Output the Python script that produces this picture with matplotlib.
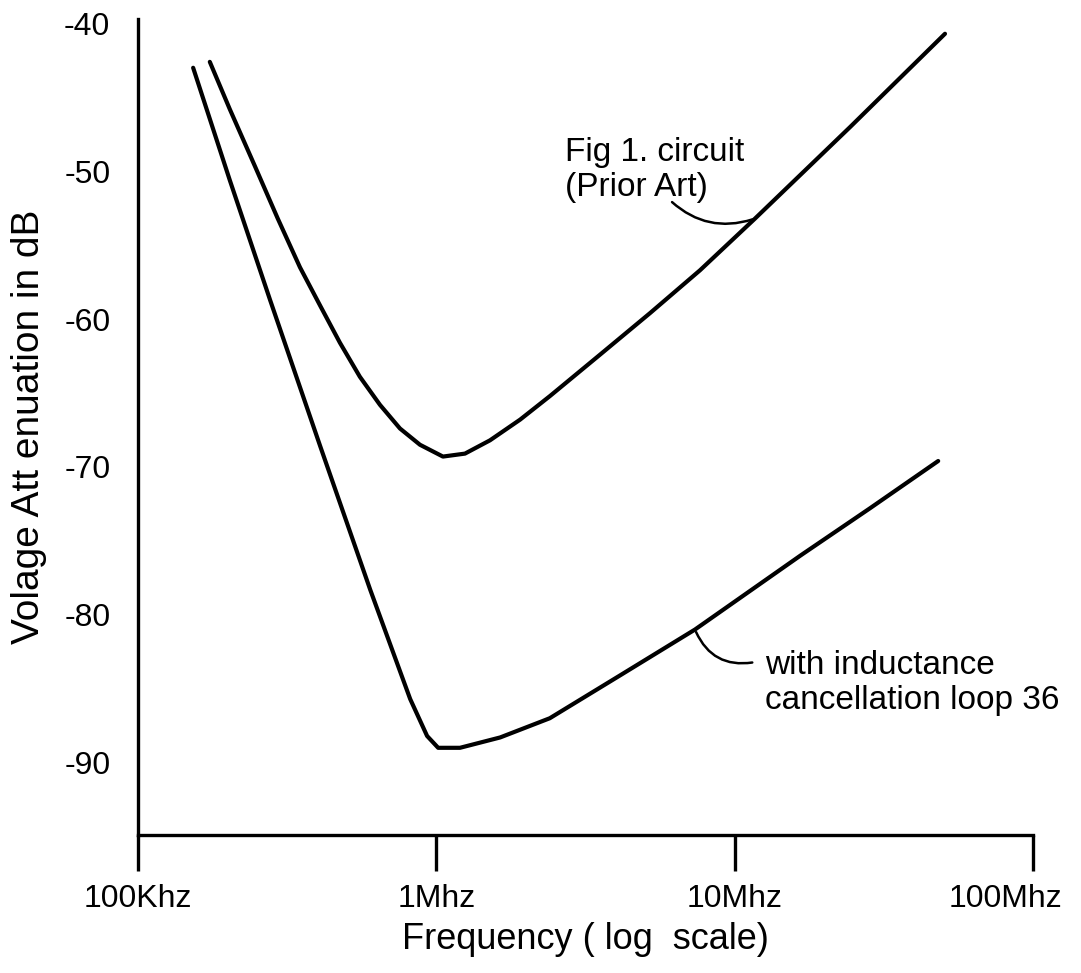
import matplotlib
matplotlib.use("Agg")
import matplotlib.pyplot as plt
import matplotlib.transforms as mtransforms

plt.rcParams['font.family'] = ['Liberation Sans', 'DejaVu Sans']

# frequency in MHz, attenuation in dB
prior_freq = [0.174, 0.203, 0.247, 0.294, 0.349, 0.408, 0.475, 0.554, 0.647, 0.755, 0.881,
              1.052, 1.247, 1.513, 1.909, 2.405, 3.54, 5.20, 7.65, 11.7, 24.4, 50.7]
prior_db = [-42.6, -45.8, -49.7, -53.2, -56.5, -59.1, -61.6, -63.9, -65.8, -67.4, -68.5,
            -69.3, -69.1, -68.2, -66.8, -65.2, -62.4, -59.6, -56.7, -53.2, -47.0, -40.7]

loop_freq = [0.153, 0.203, 0.277, 0.408, 0.600, 0.817, 0.931, 1.014, 1.20, 1.636, 2.40,
             4.13, 7.36, 16.6, 28.4, 48.1]
loop_db = [-43.0, -50.6, -58.7, -68.6, -78.3, -85.7, -88.2, -89.0, -89.0, -88.3, -87.0,
           -84.1, -81.0, -76.0, -72.8, -69.6]

xticks = [0.1, 1, 10, 100]
xtick_labels = ['100Khz', '1Mhz', '10Mhz', '100Mhz']
yticks = [-40, -50, -60, -70, -80, -90]

fig = plt.figure(figsize=(10.81, 9.73), dpi=100)
ax = fig.add_axes([0.1277, 0.1418, 0.8279, 0.8387])

ax.plot(prior_freq, prior_db, color='black', lw=3.0, solid_capstyle='round', solid_joinstyle='round')
ax.plot(loop_freq, loop_db, color='black', lw=3.0, solid_capstyle='round', solid_joinstyle='round')

ax.set_xscale('log')
ax.set_xlim(0.1, 100)
ax.set_ylim(-94.9, -39.7)

ax.spines['top'].set_visible(False)
ax.spines['right'].set_visible(False)
ax.spines['left'].set_linewidth(2.4)
ax.spines['bottom'].set_linewidth(2.4)

ax.set_xticks(xticks)
ax.set_xticklabels(xtick_labels, fontsize=23)
ax.minorticks_off()
ax.tick_params(axis='x', direction='out', length=26, width=2.4, pad=9)
ax.set_yticks(yticks)
ax.set_yticklabels([str(v) for v in yticks], fontsize=23)
ax.tick_params(axis='y', length=0, pad=20)

# last label sits a bit left of its tick
labels = ax.get_xticklabels()
shift = mtransforms.ScaledTranslation(-28 / 100, 0, fig.dpi_scale_trans)
labels[-1].set_transform(labels[-1].get_transform() + shift)

ax.set_xlabel('Frequency ( log  scale)', fontsize=26, labelpad=6)
ax.set_ylabel('Volage Att enuation in dB', fontsize=28, labelpad=12)

# annotations
ax.text(2.70, -49.9, 'Fig 1. circuit\n(Prior Art)', fontsize=24, ha='left', va='center',
        linespacing=1.15)
ax.annotate('', xy=(11.7, -53.2), xytext=(6.07, -51.96),
            arrowprops=dict(arrowstyle='-', connectionstyle='arc3,rad=0.3', lw=1.8, color='black'))

ax.text(12.6, -84.6, 'with inductance\ncancellation loop 36', fontsize=24, ha='left', va='center',
        linespacing=1.15)
ax.annotate('', xy=(11.7, -83.2), xytext=(7.36, -81.0),
            arrowprops=dict(arrowstyle='-', connectionstyle='arc3,rad=0.4', lw=1.8, color='black'))

fig.savefig('out.png', dpi=100)
